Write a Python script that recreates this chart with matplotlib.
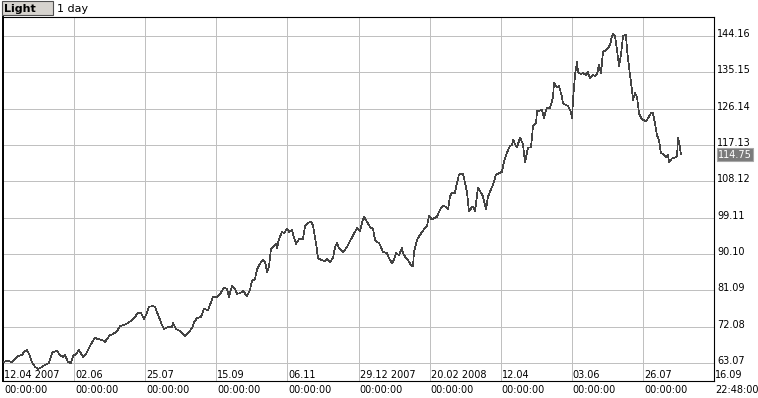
import numpy as np
import matplotlib
matplotlib.use('Agg')
import matplotlib.pyplot as plt
from matplotlib.patches import Rectangle
from matplotlib.transforms import blended_transform_factory, offset_copy

W, H = 758, 398

# time index (one step ~ 0.74 day) and close price
bar = [0, 5, 9, 12, 15, 19, 21, 24, 26, 29, 32, 35, 39, 42, 46, 49, 50, 54, 57, 60,
       62, 65, 68, 70, 73, 76, 80, 83, 85, 88, 92, 95, 99, 102, 104, 107, 110, 114, 117, 121,
       125, 129, 132, 135, 138, 141, 144, 146, 150, 152, 155, 159, 161, 165, 169, 170, 173, 177, 180, 182,
       185, 189, 191, 194, 198, 201, 205, 210, 214, 217, 221, 224, 226, 229, 232, 234, 237, 240, 244, 247,
       249, 252, 254, 257, 260, 262, 264, 266, 268, 270, 273, 274, 276, 279, 281, 284, 286, 289, 291, 293,
       296, 300, 302, 305, 308, 310, 313, 315, 318, 322, 324, 327, 330, 332, 334, 336, 340, 344, 347, 352,
       354, 357, 359, 361, 364, 367, 370, 372, 374, 376, 378, 380, 384, 386, 389, 391, 393, 396, 399, 400,
       403, 405, 408, 410, 411, 414, 419, 424, 426, 429, 432, 434, 437, 440, 443, 445, 447, 449, 452, 454,
       456, 459, 460, 462, 464, 466, 469, 471, 472, 475, 478, 480, 483, 485, 488, 490, 493, 497, 499, 501,
       504, 507, 509, 510, 512, 514, 517, 520, 522, 525, 528, 530, 533, 534, 539, 541, 543, 544, 547, 550,
       551, 554, 556, 559, 560, 563, 565, 568, 569, 570, 572, 574, 575, 578, 580, 583, 585, 587, 590, 592,
       594, 596, 598, 600, 603, 605, 607, 609, 610, 612, 614, 616, 618, 620, 623, 624, 627, 629, 630, 632,
       634, 636, 639, 641, 643, 645, 648, 650, 652, 654, 656, 658, 660, 663, 665, 666, 669, 672, 674, 675,
       676, 678]
price = [63.3, 63.6, 63.3, 64.1, 64.8, 65.05, 65.8, 66.3, 65.3, 63.3, 62.1, 61.6, 62.1, 62.6, 63.07, 65.55, 65.8, 66.05, 65.05, 64.55,
         65.05, 63.3, 63.07, 64.8, 65.3, 66.3, 64.55, 65.3, 66.3, 67.8, 69.3, 69.0, 68.8, 68.3, 69.0, 70.0, 70.2, 71.0, 72.2, 72.5,
         73.0, 73.7, 74.5, 75.5, 75.5, 74.0, 75.5, 77.0, 77.2, 77.0, 75.0, 72.5, 71.5, 72.0, 72.0, 73.0, 71.5, 71.0, 70.2, 69.8,
         70.5, 71.7, 73.2, 74.2, 74.5, 76.5, 76.2, 79.5, 79.5, 80.2, 81.7, 81.5, 79.5, 82.2, 81.5, 80.2, 80.4, 80.9, 79.7, 81.2,
         83.4, 83.9, 86.2, 87.7, 88.7, 88.2, 85.7, 86.9, 91.4, 91.9, 92.6, 91.6, 93.8, 95.6, 95.3, 96.3, 95.6, 96.1, 94.1, 92.6,
         93.8, 93.8, 97.1, 97.8, 98.1, 97.1, 92.8, 89.1, 88.6, 88.3, 88.8, 88.1, 89.1, 91.8, 92.8, 91.6, 90.6, 91.8, 93.3, 95.6,
         96.6, 95.8, 97.8, 99.3, 98.1, 96.8, 96.3, 93.6, 93.1, 92.8, 91.8, 90.6, 90.3, 89.1, 87.8, 88.6, 90.3, 89.8, 91.6, 90.3,
         89.1, 88.6, 87.3, 87.1, 90.6, 93.6, 95.6, 97.1, 99.5, 98.6, 99.1, 99.3, 101.1, 102.1, 101.8, 101.1, 104.3, 105.3, 105.3, 107.8,
         109.8, 110.0, 110.0, 107.8, 105.3, 100.6, 101.8, 101.6, 100.6, 106.6, 105.3, 104.3, 101.1, 104.3, 106.1, 107.3, 109.8, 110.2, 110.5, 113.0,
         115.2, 117.0, 117.0, 118.5, 117.3, 116.5, 119.0, 117.3, 112.8, 116.5, 116.5, 121.8, 122.5, 125.5, 125.8, 123.8, 125.8, 126.3, 126.3, 129.0,
         132.5, 131.5, 131.8, 129.0, 127.5, 127.0, 126.8, 125.3, 123.8, 128.3, 134.5, 137.7, 135.2, 134.7, 135.0, 134.5, 135.2, 133.7, 134.5, 134.2,
         134.7, 137.0, 135.0, 140.2, 140.7, 141.2, 141.9, 144.2, 144.7, 144.2, 140.7, 136.7, 139.5, 144.2, 144.4, 140.7, 134.5, 130.7, 128.3, 130.0,
         129.0, 125.0, 123.5, 123.3, 123.0, 123.8, 125.0, 125.0, 122.5, 119.5, 118.3, 115.0, 115.0, 114.0, 114.8, 112.8, 113.8, 114.0, 114.3, 118.8,
         118.0, 114.75]

price_levels = [63.07, 72.08, 81.09, 90.10, 99.11, 108.12, 117.13, 126.14, 135.15, 144.16]
date_labels = ['12.04 2007', '02.06', '25.07', '15.09', '06.11', '29.12 2007',
               '20.02 2008', '12.04', '03.06', '26.07', '16.09']
time_labels = ['00:00:00'] * 10 + ['22:48:00']
last_price = 114.75

plt.rcParams['font.family'] = 'DejaVu Sans'

fig = plt.figure(figsize=(W / 100, H / 100), dpi=100)
ax = fig.add_axes([3 / W, 1 - 381 / H, 711 / W, 364 / H])

ax.plot(bar, price, color='#444444', lw=0.5, antialiased=False, zorder=3)

ax.set_xlim(0, 711)
ax.set_ylim(58.6, 148.87)
xt = np.linspace(0, 711, len(date_labels))
ax.set_xticks(xt)
ax.set_yticks(price_levels)
ax.grid(True, color='#c0c0c0', lw=0.6, antialiased=False)
ax.tick_params(length=0, labelbottom=False, labelleft=False)
for s in ax.spines.values():
    s.set_color('black')
    s.set_linewidth(0.8)
ax.spines['left'].set_linewidth(1.4)

# price labels on the right, sitting on the grid lines
ytr = offset_copy(blended_transform_factory(ax.transAxes, ax.transData), fig=fig, x=3, y=-1, units='dots')
for v in price_levels:
    ax.text(1.0, v, f'{v:.2f}', transform=ytr, fontsize=7, va='baseline', ha='left')

btr = offset_copy(blended_transform_factory(ax.transAxes, ax.transData), fig=fig, x=4, y=0, units='dots')
ax.text(1.0, last_price, f'{last_price:.2f}', transform=btr, fontsize=7, color='white',
        va='center', ha='left',
        bbox=dict(facecolor='#7a7a7a', edgecolor='#a8a8a8', lw=0.8, boxstyle='square,pad=0.15'))

# date / time labels
row1 = offset_copy(blended_transform_factory(ax.transData, ax.transAxes), fig=fig, x=1, y=3, units='dots')
row2 = offset_copy(blended_transform_factory(ax.transData, ax.transAxes), fig=fig, x=1, y=-12, units='dots')
for x, d, t in zip(xt, date_labels, time_labels):
    ax.text(x, 0, d, transform=row1, fontsize=7, va='baseline', ha='left')
    ax.text(x, 0, t, transform=row2, fontsize=7, va='baseline', ha='left')

# header
fig.patches.append(Rectangle((2 / W, 1 - 15 / H), 51 / W, 14 / H, transform=fig.transFigure,
                             facecolor='#d6d3ce', edgecolor='#505050', lw=0.8))
fig.text(4 / W, 1 - 12 / H, 'Light', fontsize=8, fontweight='bold', va='baseline')
fig.text(57 / W, 1 - 12 / H, '1 day', fontsize=8, va='baseline')

fig.savefig('out.png', dpi=100)
